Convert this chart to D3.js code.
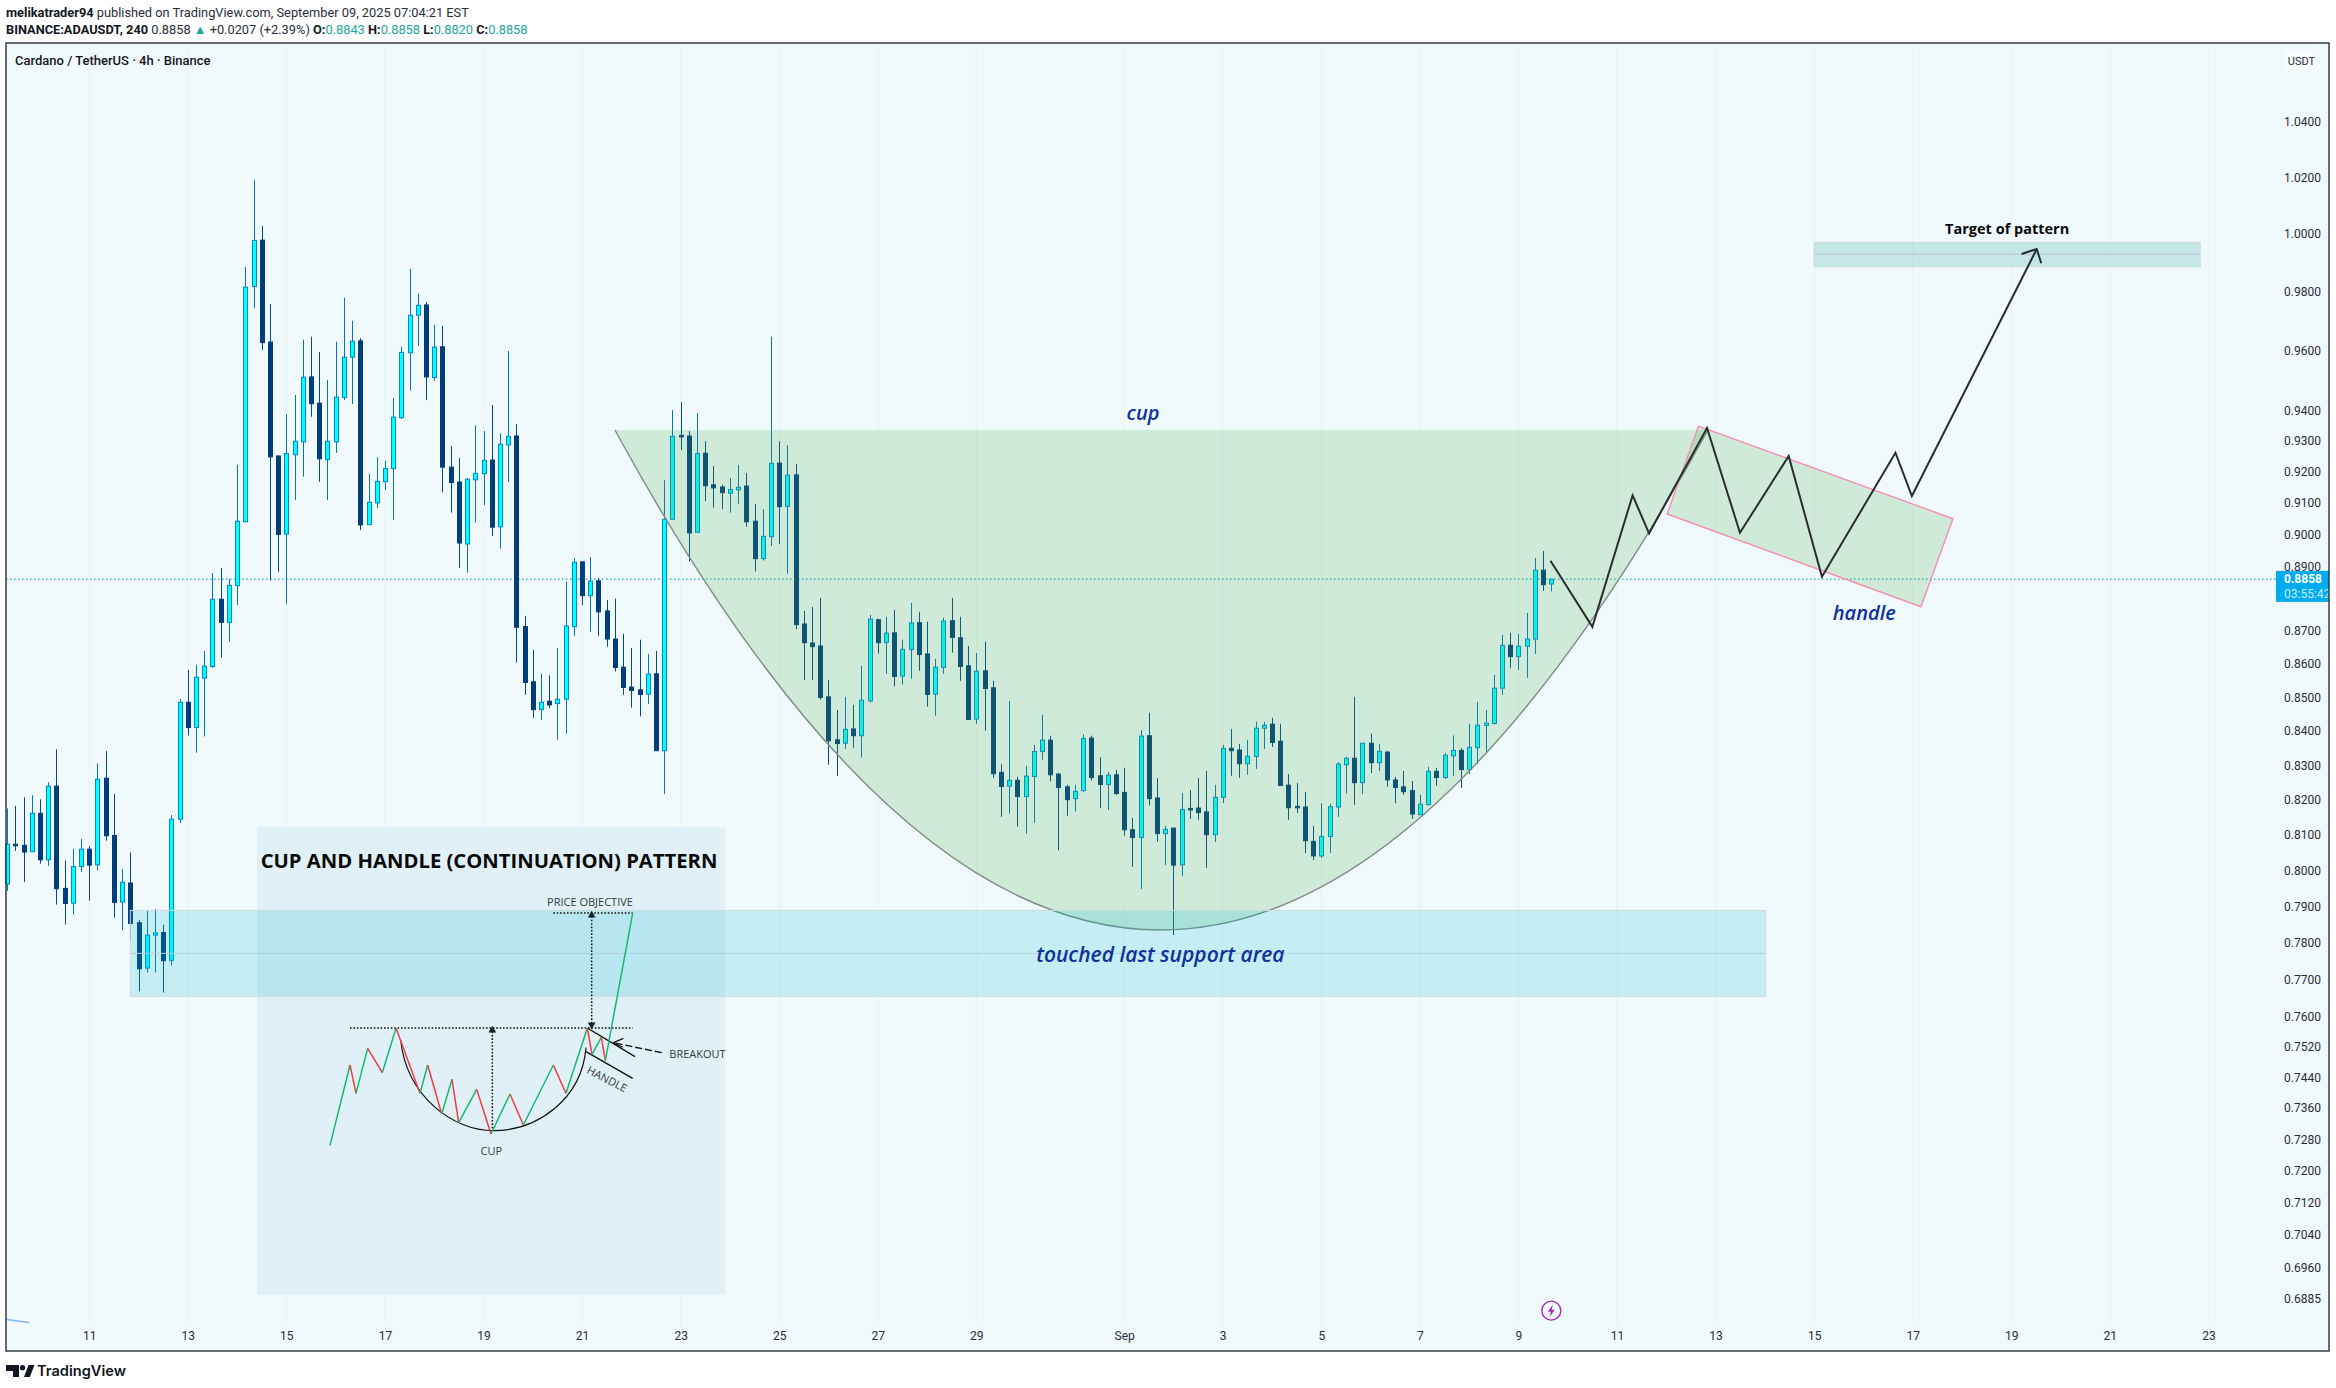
<!DOCTYPE html>
<html>
<head>
<meta charset="utf-8">
<script src="https://cdn.jsdelivr.net/npm/d3@7"></script>
<style>
  html, body { margin: 0; padding: 0; background: #fff; }
  svg { display: block; font-family: Roboto, sans-serif; }
</style>
</head>
<body>
<svg id="chart" width="2336" height="1388"></svg>
<script>
// candle values, one entry per 4h bar
const opens = [
  .7960,.8072,.8069,.8051,.8160,.8028,.8238,.7948,.7907,.8009,
  .8058,.8014,.8261,.8097,.7910,.7963,.7853,.7729,.7819,.7826,
  .7750,.8143,.8484,.8409,.8556,.8591,.8796,.8725,.8838,.9038,
  .9815,.9976,.9626,.9249,.8999,.9253,.9295,.9509,.9422,.9237,
  .9295,.9441,.9575,.9630,.9029,.9098,.9166,.9208,.9374,.9590,
  .9717,.9752,.9507,.9610,.9213,.9165,.8968,.9172,.9192,.9236,
  .9022,.9285,.9314,.8712,.8545,.8462,.8487,.8480,.8493,.8712,
  .8912,.8807,.8853,.8760,.8674,.8589,.8529,.8521,.8508,.8569,
  .8341,.9046,.9316,.9314,.9005,.9258,.9156,.9149,.9129,.9140,
  .9152,.9040,.8922,.8991,.9226,.9087,.9188,.8720,.8662,.8653,
  .8500,.8373,.8363,.8405,.8385,.8488,.8733,.8664,.8693,.8562,
  .8642,.8724,.8629,.8508,.8588,.8730,.8678,.8593,.8434,.8578,
  .8527,.8278,.8238,.8255,.8208,.8266,.8339,.8372,.8273,.8236,
  .8202,.8225,.8378,.8268,.8243,.8271,.8220,.8113,.8091,.8385,
  .8204,.8102,.8118,.8014,.8174,.8175,.8164,.8099,.8206,.8348,
  .8343,.8303,.8324,.8407,.8419,.8369,.8241,.8180,.8178,.8080,
  .8039,.8094,.8178,.8300,.8319,.8248,.8363,.8306,.8337,.8256,
  .8236,.8225,.8156,.8185,.8281,.8263,.8326,.8342,.8286,.8350,
  .8415,.8421,.8526,.8655,.8621,.8652,.8674,.8886,.8843
];
const closes = [
  .8072,.8071,.8050,.8160,.8028,.8238,.7947,.7906,.8009,.8058,
  .8013,.8258,.8096,.7909,.7965,.7851,.7727,.7819,.7825,.7749,
  .8143,.8484,.8409,.8559,.8592,.8796,.8725,.8839,.9040,.9813,
  .9975,.9624,.9246,.8998,.9257,.9297,.9508,.9420,.9240,.9297,
  .9442,.9575,.9629,.9028,.9100,.9167,.9209,.9376,.9591,.9717,
  .9751,.9509,.9609,.9213,.9163,.8971,.9174,.9193,.9235,.9021,
  .9287,.9313,.8710,.8543,.8462,.8484,.8476,.8493,.8714,.8911,
  .8807,.8852,.8757,.8674,.8588,.8528,.8519,.8507,.8568,.8341,
  .9046,.9313,.9315,.9003,.9257,.9153,.9146,.9131,.9141,.9148,
  .9038,.8922,.8992,.9225,.9086,.9187,.8718,.8663,.8651,.8498,
  .8370,.8362,.8404,.8385,.8490,.8735,.8663,.8692,.8561,.8643,
  .8723,.8627,.8507,.8589,.8729,.8679,.8591,.8433,.8577,.8525,
  .8274,.8237,.8255,.8208,.8267,.8339,.8372,.8271,.8234,.8199,
  .8223,.8377,.8263,.8243,.8270,.8217,.8113,.8091,.8384,.8202,
  .8102,.8114,.8013,.8171,.8173,.8162,.8099,.8206,.8348,.8341,
  .8303,.8325,.8407,.8416,.8365,.8240,.8176,.8179,.8082,.8039,
  .8094,.8179,.8302,.8319,.8248,.8363,.8306,.8339,.8256,.8234,
  .8222,.8158,.8186,.8281,.8263,.8328,.8342,.8286,.8351,.8416,
  .8422,.8526,.8655,.8621,.8652,.8674,.8886,.8841,.8858
];
const highs = [
  .8174,.8181,.8206,.8212,.8200,.8249,.8345,.8026,.8058,.8087,
  .8067,.8304,.8340,.8215,.8002,.8049,.7861,.7886,.7891,.7847,
  .8155,.8494,.8581,.8596,.8638,.8877,.8893,.8858,.9220,.9882,
  1.0189,1.0025,.9755,.9251,.9386,.9449,.9634,.9644,.9592,.9499,
  .9627,.9776,.9698,.9639,.9191,.9245,.9233,.9439,.9610,.9876,
  .9791,.9762,.9684,.9681,.9281,.9242,.9178,.9349,.9330,.9416,
  .9323,.9596,.9353,.8745,.8641,.8569,.8564,.8647,.8850,.8924,
  .8914,.8927,.8861,.8794,.8798,.8690,.8647,.8672,.8629,.8638,
  .9171,.9399,.9425,.9330,.9389,.9297,.9216,.9157,.9178,.9220,
  .9194,.9094,.9078,.9644,.9297,.9284,.9223,.8760,.8772,.8800,
  .8551,.8461,.8500,.8476,.8593,.8748,.8736,.8742,.8763,.8672,
  .8785,.8757,.8727,.8614,.8739,.8800,.8742,.8653,.8632,.8666,
  .8548,.8302,.8488,.8265,.8297,.8358,.8447,.8385,.8276,.8242,
  .8242,.8389,.8385,.8322,.8279,.8285,.8291,.8147,.8402,.8453,
  .8261,.8124,.8118,.8218,.8227,.8261,.8282,.8242,.8358,.8405,
  .8361,.8373,.8426,.8426,.8438,.8420,.8273,.8247,.8221,.8124,
  .8189,.8187,.8308,.8323,.8500,.8364,.8391,.8361,.8340,.8265,
  .8282,.8253,.8213,.8294,.8291,.8334,.8386,.8349,.8420,.8485,
  .8461,.8566,.8687,.8693,.8690,.8754,.8924,.8946,.8858
];
const lows = [
  .7941,.8053,.7966,.8051,.8017,.8011,.7903,.7848,.7876,.7994,
  .7914,.7998,.8082,.7867,.7832,.7801,.7666,.7717,.7717,.7663,
  .7736,.8132,.8386,.8335,.8383,.8586,.8618,.8666,.8778,.9038,
  .9742,.9599,.8854,.8881,.8782,.9107,.9182,.9377,.9166,.9107,
  .9259,.9432,.9419,.9012,.9029,.9082,.9139,.9044,.9370,.9463,
  .9613,.9432,.9496,.9132,.9067,.8893,.8878,.9035,.9091,.8993,
  .8953,.9165,.8603,.8506,.8438,.8432,.8467,.8373,.8391,.8684,
  .8778,.8696,.8684,.8651,.8576,.8506,.8468,.8442,.8479,.8341,
  .8215,.9046,.9268,.8913,.9005,.9104,.9083,.9078,.9067,.9095,
  .9022,.8882,.8916,.8962,.8968,.8875,.8704,.8551,.8551,.8492,
  .8300,.8268,.8346,.8350,.8321,.8483,.8630,.8569,.8531,.8537,
  .8554,.8578,.8471,.8444,.8569,.8633,.8548,.8433,.8420,.8400,
  .8262,.8150,.8159,.8122,.8102,.8133,.8315,.8252,.8055,.8153,
  .8165,.8222,.8254,.8175,.8169,.8212,.8096,.8008,.7946,.8182,
  .8079,.8013,.7819,.7982,.8144,.8141,.8005,.8078,.8189,.8268,
  .8262,.8271,.8288,.8346,.8352,.8240,.8141,.8161,.8047,.8027,
  .8033,.8047,.8150,.8217,.8184,.8215,.8276,.8282,.8236,.8189,
  .8213,.8144,.8156,.8182,.8239,.8259,.8268,.8233,.8273,.8302,
  .8337,.8418,.8506,.8587,.8581,.8557,.8629,.8822,.8820
];

// axes
const priceTicks = [1.04,1.02,1,.98,.96,.94,.93,.92,.91,.90,.89,.87,.86,.85,.84,.83,.82,.81,.80,.79,.78,.77,.76,.752,.744,.736,.728,.72,.712,.704,.696,.6885];
const dayTickBars = [10,22,34,46,58,70,82,94,106,118,136,148,160,172,184,196,208,220,232,244,256,268];
const dayTickLabels = ["11","13","15","17","19","21","23","25","27","29","Sep","3","5","7","9","11","13","15","17","19","21","23"];
const lastPrice = 0.8858;

// drawings on the chart, as bar number and price
const cupBars = [74, 140.4, 207.07];
const cupPrices = [.93336, .65734, .93336];
const supportBars = [15, 214.1];
const supportPrices = [.78869, .7769, .76527];
const targetBars = [220, 267];
const targetPrices = [.99685, .99267, .98836];
const handleBars = [205.93, 236.9, 233, 202.1];
const handlePrices = [.93466, .90478, .87728, .90627];
const pathBars = [187.9, 193, 197.9, 199.9, 206.96, 210.97, 216.9, 220.95, 229.9, 231.9, 247.1];
const pathPrices = [.89154, .87115, .91223, .90015, .93401, .90034, .92488, .88655, .92595, .91201, .99451];
const arrowBars = [245.25, 247.1, 247.65];
const arrowPrices = [.99277, .99451, .98954];
const panelBars = [30.42, 87.4];
const panelPrices = [.812, .6893];
const cornerBars = [-0.1, 2.67];
const cornerPrices = [.68331, .68259];

// the pasted cup and handle picture, in its own units
const zigX = [210,270,288,323,367,408,480,503,545,576,596,650,693,750,790,880,918,982,996,1024,1036,1118];
const zigY = [976,735,820,685,758,624,820,735,882,778,908,808,942,822,915,735,820,624,703,652,722,280];
const cupArcX = [422,440,580,700,830,965,978];
const cupArcY = [660,830,932,932,932,840,683];

const W = 2336, H = 1388;
const plot = { left: 6, right: 2329, top: 43, bottom: 1351 };

const svg = d3.select("#chart");

const x = d3.scaleLinear().domain([0, 188]).range([7.1, 1551.3]);
const y = d3.scaleLog().domain([1.069, 0.6758]).range([plot.top, plot.bottom]);
const insetX = d3.scaleLinear().domain([0, 1440]).range([260, 740]);
const insetY = d3.scaleLinear().domain([0, 1080]).range([820, 1180]);

// header
const head = svg.append("g").attr("font-size", 12.8).attr("fill", "#131722");
const line1 = head.append("text").attr("x", 6).attr("y", 17);
line1.append("tspan").attr("font-weight", 700).text("melikatrader94");
line1.append("tspan").attr("fill", "#2a2e39").text(" published on TradingView.com, September 09, 2025 07:04:21 EST");
const line2 = head.append("text").attr("x", 6).attr("y", 34);
const teal = "#26a69a";
[["BINANCE:ADAUSDT, 240", 700, null], [" 0.8858 ", 400, "#2a2e39"], ["▲", 400, teal], [" +0.0207 (+2.39%) ", 400, "#2a2e39"],
 ["O:", 700, null], ["0.8843 ", 400, teal], ["H:", 700, null], ["0.8858 ", 400, teal],
 ["L:", 700, null], ["0.8820 ", 400, teal], ["C:", 700, null], ["0.8858", 400, teal]].forEach(s => {
  const t = line2.append("tspan").attr("font-weight", s[1]).text(s[0]);
  if (s[2]) t.attr("fill", s[2]);
});

// plot background
svg.append("rect")
  .attr("x", plot.left).attr("y", plot.top)
  .attr("width", plot.right - plot.left).attr("height", plot.bottom - plot.top)
  .attr("fill", "#f0f9fb");

svg.append("g").selectAll("line").data(dayTickBars).join("line")
  .attr("x1", d => x(d)).attr("x2", d => x(d))
  .attr("y1", plot.top).attr("y2", plot.bottom - 26)
  .attr("stroke", "#e9f2f4").attr("stroke-width", 1);

// last price line goes behind the candles
svg.append("line")
  .attr("x1", plot.left).attr("x2", 2276)
  .attr("y1", y(lastPrice)).attr("y2", y(lastPrice))
  .attr("stroke", "#12a5d0").attr("stroke-width", 1.2).attr("stroke-dasharray", "1.5 2.5");

// candles
const candles = svg.append("g").selectAll("g").data(d3.range(opens.length)).join("g");
candles.append("line")
  .attr("x1", i => Math.round(x(i)) + .5).attr("x2", i => Math.round(x(i)) + .5)
  .attr("y1", i => y(highs[i])).attr("y2", i => y(lows[i]))
  .attr("stroke", i => closes[i] >= opens[i] ? "#0277bd" : "#024a8a")
  .attr("stroke-width", 1);
candles.append("rect")
  .attr("x", i => Math.round(x(i)) - 1.5)
  .attr("width", 4)
  .attr("y", i => y(Math.max(opens[i], closes[i])))
  .attr("height", i => Math.max(1.5, Math.abs(y(opens[i]) - y(closes[i]))))
  .attr("fill", i => closes[i] >= opens[i] ? "#00ffff" : "#023e7d")
  .attr("stroke", i => closes[i] >= opens[i] ? "#0288d1" : "#023e7d")
  .attr("stroke-width", 1);

// pasted picture panel
svg.append("rect")
  .attr("x", x(panelBars[0])).attr("width", x(panelBars[1]) - x(panelBars[0]))
  .attr("y", y(panelPrices[0])).attr("height", y(panelPrices[1]) - y(panelPrices[0]))
  .attr("fill", "#e1f0f7");

// cup
const cupFill = d3.path();
cupFill.moveTo(x(cupBars[0]), y(cupPrices[0]));
cupFill.quadraticCurveTo(x(cupBars[1]), y(cupPrices[1]), x(cupBars[2]), y(cupPrices[2]));
cupFill.closePath();
svg.append("path").attr("d", cupFill.toString()).attr("fill", "rgba(76,175,80,.2)");
const cupEdge = d3.path();
cupEdge.moveTo(x(cupBars[0]), y(cupPrices[0]));
cupEdge.quadraticCurveTo(x(cupBars[1]), y(cupPrices[1]), x(cupBars[2]), y(cupPrices[2]));
svg.append("path").attr("d", cupEdge.toString()).attr("fill", "none")
  .attr("stroke", "#7f8c85").attr("stroke-width", 1.4);

// zones
function zone(bars, prices, fill, midStroke) {
  const g = svg.append("g");
  g.append("rect")
    .attr("x", x(bars[0])).attr("width", x(bars[1]) - x(bars[0]))
    .attr("y", y(prices[0])).attr("height", y(prices[2]) - y(prices[0]))
    .attr("fill", fill).attr("stroke", "#cfdadd").attr("stroke-width", 1);
  g.append("line")
    .attr("x1", x(bars[0])).attr("x2", x(bars[1]))
    .attr("y1", y(prices[1])).attr("y2", y(prices[1]))
    .attr("stroke", midStroke).attr("stroke-width", 1);
}
zone(supportBars, supportPrices, "rgba(0,188,212,.18)", "#aecfe0");
zone(targetBars, targetPrices, "rgba(0,150,136,.18)", "#bfc7dc");

// handle box
svg.append("polygon")
  .attr("points", handleBars.map((b, i) => [x(b), y(handlePrices[i])].join(",")).join(" "))
  .attr("fill", "rgba(76,175,80,.2)").attr("stroke", "#f48fb1").attr("stroke-width", 1.4);

// projected path and arrow
const lineBP = d3.line().x(d => x(d[0])).y(d => y(d[1]));
svg.append("path")
  .attr("d", lineBP(pathBars.map((b, i) => [b, pathPrices[i]])))
  .attr("fill", "none").attr("stroke", "#2a2e2f").attr("stroke-width", 2);
svg.append("path")
  .attr("d", lineBP(arrowBars.map((b, i) => [b, arrowPrices[i]])))
  .attr("fill", "none").attr("stroke", "#2a2e2f").attr("stroke-width", 2);

// small blue stroke in the lower left corner
svg.append("path")
  .attr("d", lineBP(cornerBars.map((b, i) => [b, cornerPrices[i]])))
  .attr("fill", "none").attr("stroke", "#82b1ff").attr("stroke-width", 1.6);

// inset drawing
const inset = svg.append("g");
const insetLine = d3.line().x(d => insetX(d[0])).y(d => insetY(d[1]));
const dots = "1.6 1.8";
function insetSeg(a, b, stroke, width, dash) {
  const p = inset.append("path").attr("d", insetLine([a, b]))
    .attr("fill", "none").attr("stroke", stroke).attr("stroke-width", width);
  if (dash) p.attr("stroke-dasharray", dash);
}
const cupArc = d3.path();
cupArc.moveTo(insetX(cupArcX[0]), insetY(cupArcY[0]));
cupArc.bezierCurveTo(insetX(cupArcX[1]), insetY(cupArcY[1]), insetX(cupArcX[2]), insetY(cupArcY[2]), insetX(cupArcX[3]), insetY(cupArcY[3]));
cupArc.bezierCurveTo(insetX(cupArcX[4]), insetY(cupArcY[4]), insetX(cupArcX[5]), insetY(cupArcY[5]), insetX(cupArcX[6]), insetY(cupArcY[6]));
inset.append("path").attr("d", cupArc.toString()).attr("fill", "none").attr("stroke", "#111").attr("stroke-width", 1.2);
insetSeg([270,624], [1118,624], "#111", 1.5, dots);
insetSeg([880,279], [1118,279], "#111", 1.5, dots);
insetSeg([697,925], [697,635], "#111", 1.5, dots);
insetSeg([995,610], [995,290], "#111", 1.5, dots);
insetSeg([982,624], [1125,710], "#111", 1.4);
insetSeg([978,695], [1118,775], "#111", 1.4);
insetSeg([1205,698], [1060,668], "#111", 1.4, "7 3");
insetSeg([1060,668], [1090,655], "#111", 1.2);
insetSeg([1060,668], [1088,682], "#111", 1.2);
zigX.slice(1).forEach((zx, i) => {
  const up = zigY[i + 1] < zigY[i];
  insetSeg([zigX[i], zigY[i]], [zx, zigY[i + 1]], up ? "#14b96f" : "#f23c40", 1.5);
});
const tri = d3.symbol().type(d3.symbolTriangle).size(26);
[[697,631,0],[995,286,0],[995,614,180]].forEach(a => {
  inset.append("path").attr("d", tri())
    .attr("transform", `translate(${insetX(a[0])},${insetY(a[1])}) rotate(${a[2]})`)
    .attr("fill", "#12262b");
});
function insetText(zx, zy, str, anchor, rot) {
  const t = inset.append("text").attr("x", insetX(zx)).attr("y", insetY(zy))
    .attr("text-anchor", anchor).attr("dominant-baseline", "middle")
    .attr("font-family", "Open Sans").attr("font-size", 11).attr("fill", "#333a3d").text(str);
  if (rot) t.attr("transform", `rotate(${rot},${insetX(zx)},${insetY(zy)})`);
}
insetText(990, 250, "PRICE OBJECTIVE", "middle");
insetText(1228, 705, "BREAKOUT", "start");
insetText(1040, 780, "HANDLE", "middle", 27);
insetText(694, 997, "CUP", "middle");
inset.append("text")
  .attr("x", insetX(2)).attr("y", insetY(143))
  .attr("font-family", "Open Sans").attr("font-weight", 700).attr("font-size", 20.25).attr("fill", "#0a0a0a")
  .text("CUP AND HANDLE (CONTINUATION) PATTERN");

// notes on the chart
function note(xPos, yPos, str, size) {
  svg.append("text").attr("x", xPos).attr("y", yPos)
    .attr("text-anchor", "middle").attr("dominant-baseline", "middle")
    .attr("font-family", "Open Sans").attr("font-style", "italic").attr("font-weight", 600)
    .attr("font-size", size).attr("fill", "#10309b").text(str);
}
note(x(138.3), y(.9383), "cup", 20);
note(x(140.4), y(.7762), "touched last support area", 21);
note(x(226.1), y(.8750), "handle", 20);
svg.append("text").attr("x", x(243.5)).attr("y", y(1.0012))
  .attr("text-anchor", "middle").attr("dominant-baseline", "middle")
  .attr("font-family", "Open Sans").attr("font-weight", 700).attr("font-size", 14.5).attr("fill", "#0a0a0a")
  .text("Target of pattern");

svg.append("text").attr("x", 15).attr("y", 65)
  .attr("font-size", 13).attr("font-weight", 500).attr("fill", "#131722")
  .text("Cardano / TetherUS · 4h · Binance");

// axes
const yAxis = d3.axisRight(y).tickValues(priceTicks).tickFormat(d3.format(".4f")).tickSize(0).tickPadding(0);
const gy = svg.append("g").attr("transform", "translate(2284,0.5)").call(yAxis);
const xAxis = d3.axisBottom(x).tickValues(dayTickBars).tickFormat((d, i) => dayTickLabels[i]).tickSize(0).tickPadding(0);
const gx = svg.append("g").attr("transform", `translate(0,${plot.bottom - 20})`).call(xAxis);
[gy, gx].forEach(g => {
  g.select(".domain").remove();
  g.selectAll("text").attr("font-family", "Roboto").attr("font-size", 12).attr("fill", "#2a2e39");
});

// last price tag
const tagTop = y(lastPrice) - 8.3;
svg.append("rect").attr("x", 2276).attr("y", tagTop).attr("width", 53).attr("height", 31).attr("fill", "#00acee");
svg.append("text").attr("x", 2284).attr("y", y(lastPrice) + 4)
  .attr("font-size", 12).attr("font-weight", 700).attr("fill", "#fff").text(lastPrice.toFixed(4));
svg.append("text").attr("x", 2284).attr("y", y(lastPrice) + 19)
  .attr("font-size", 12).attr("fill", "#c6ecfb").text("03:55:42");

// currency box
svg.append("rect").attr("x", 2284).attr("y", 50).attr("width", 35).attr("height", 21).attr("rx", 3)
  .attr("fill", "#f6fbfc");
svg.append("text").attr("x", 2301.5).attr("y", 65).attr("text-anchor", "middle")
  .attr("font-size", 11).attr("fill", "#2a2e39").text("USDT");

// frame
svg.append("rect")
  .attr("x", plot.left).attr("y", plot.top)
  .attr("width", plot.right - plot.left).attr("height", plot.bottom - plot.top)
  .attr("fill", "none").attr("stroke", "#2a2e39").attr("stroke-width", 1.4);

// dividends bolt
const boltX = x(188), boltY = y(.68543);
svg.append("circle").attr("cx", boltX).attr("cy", boltY).attr("r", 9.5)
  .attr("fill", "#f0f9fb").attr("stroke", "#ab2cc4").attr("stroke-width", 1.4);
svg.append("path")
  .attr("transform", `translate(${boltX},${boltY})`)
  .attr("d", "M1.5,-6 L-3.5,1 L-.5,1 L-1.5,6 L3.5,-1 L.5,-1 Z")
  .attr("fill", "#ab2cc4");

// logo
const logo = svg.append("g").attr("fill", "#131722");
logo.append("path").attr("d", "M6,1365 H19 V1377 H13 V1371 H6 Z");
logo.append("circle").attr("cx", 22.5).attr("cy", 1367.7).attr("r", 2.6);
logo.append("path").attr("d", "M24,1377 L28.5,1365 H34.5 L29.8,1377 Z");
logo.append("text").attr("x", 37).attr("y", 1376)
  .attr("font-family", "Inter").attr("font-size", 14.6).attr("font-weight", 600).text("TradingView");
</script>
</body>
</html>
